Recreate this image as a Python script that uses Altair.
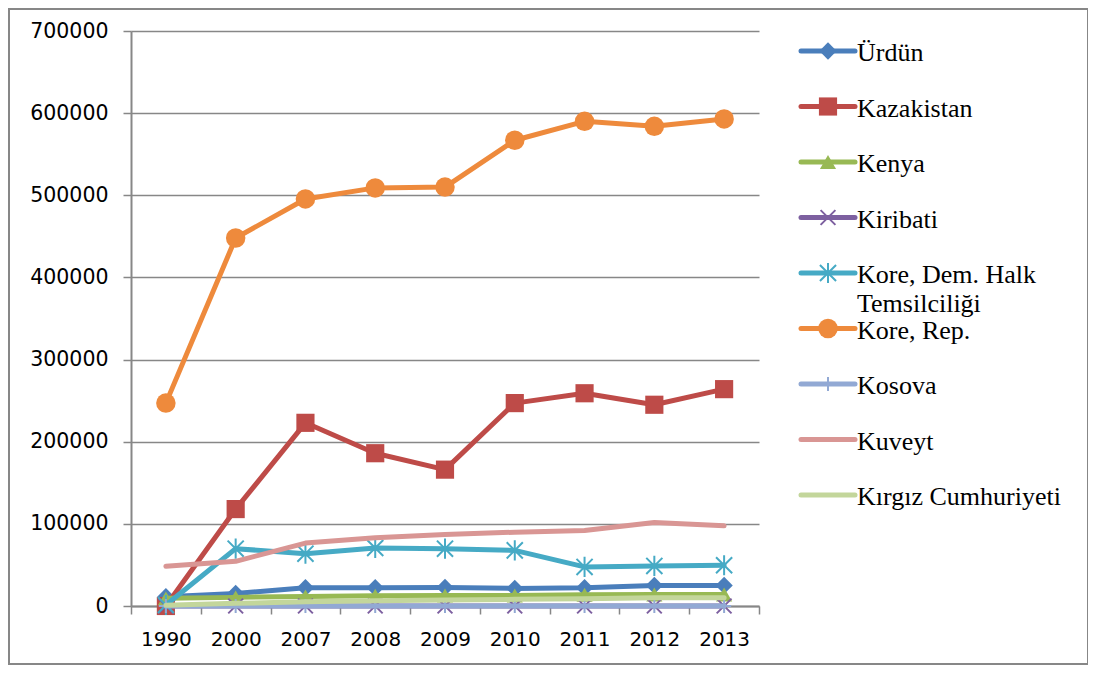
import altair as alt
import pandas as pd

years = ["1990", "2000", "2007", "2008", "2009", "2010", "2011", "2012", "2013"]
series = ["Ürdün", "Kazakistan", "Kenya", "Kiribati", "Kore, Dem. Halk Temsilciliği",
          "Kore, Rep.", "Kosova", "Kuveyt", "Kırgız Cumhuriyeti"]
legend_labels = ["Ürdün", "Kazakistan", "Kenya", "Kiribati", "Kore, Dem. Halk\nTemsilciliği",
                 "Kore, Rep.", "Kosova", "Kuveyt", "Kırgız Cumhuriyeti"]

urdun = [11300, 15300, 22200, 22200, 22600, 21400, 22200, 25000, 25000]
kazakistan = [0, 118000, 223000, 186000, 166000, 247000, 259000, 245000, 264000]
kenya = [9300, 10500, 11700, 12500, 12900, 12900, 13700, 14100, 14100]
kiribati = [0, 0, 0, 0, 0, 0, 0, 0, 0]
kore_dht = [1200, 69800, 63700, 70600, 69800, 67700, 47600, 48800, 49600]
kore_rep = [247000, 448000, 495500, 509000, 510000, 567000, 590000, 584000, 593000]
kosova = [0, 0, 0, 0, 0, 0, 0, 0, 0]
kuveyt = [48400, 54400, 76600, 83000, 87100, 89900, 91900, 101600, 97600]
kirgiz = [1000, 3200, 5200, 6500, 7300, 8100, 8900, 10100, 10100]

values = [urdun, kazakistan, kenya, kiribati, kore_dht, kore_rep, kosova, kuveyt, kirgiz]

colors = ["#4A7EBB", "#BE4B48", "#98B954", "#7D60A0", "#46AAC5",
          "#EE8A3C", "#92A9D4", "#D99694", "#C3D69B"]

# marker style per series: (shape, filled, size)
X_PATH = "M-1,-1L1,1M-1,1L1,-1"
STAR_PATH = "M-1,-1L1,1M-1,1L1,-1M0,-1.25L0,1.25"
PLUS_PATH = "M-1,0L1,0M0,-1L0,1"
marker_style = [
    ("diamond", True, 300),
    ("square", True, 330),
    ("triangle-up", True, 260),
    (X_PATH, False, 220),
    (STAR_PATH, False, 260),
    ("circle", True, 380),
    (PLUS_PATH, False, 200),
    (None, None, None),
    (None, None, None),
]

rows = []
for name, vals in zip(series, values):
    for y, v in zip(years, vals):
        rows.append({"series": name, "year": y, "value": v})
df = pd.DataFrame(rows)
leg_df = pd.DataFrame({"series": series, "label": legend_labels})

grey = "#878787"
color_scale = alt.Scale(domain=series, range=colors)

x_enc = alt.X("year:O", sort=years, bandPosition=0.5,
              scale=alt.Scale(type="band", paddingInner=0, paddingOuter=0),
              axis=alt.Axis(title=None, labelAngle=0, tickBand="extent", tickSize=8,
                            tickWidth=1.5, tickColor=grey, domainColor=grey, domainWidth=2,
                            labelFont="DejaVu Sans", labelFontSize=20, labelColor="black",
                            labelPadding=15, grid=False))
y_enc = alt.Y("value:Q", scale=alt.Scale(domain=[0, 700000], nice=False, zero=True),
              axis=alt.Axis(title=None, values=[0, 100000, 200000, 300000, 400000, 500000,
                                                600000, 700000],
                            format="d", tickSize=8, tickWidth=1.5, tickColor=grey,
                            domainColor=grey, domainWidth=2, gridColor=grey, gridWidth=1.5,
                            grid=True, labelFont="DejaVu Sans", labelFontSize=20.5,
                            labelColor="black", labelPadding=15))
c_enc = alt.Color("series:N", scale=color_scale, legend=None)

main_layers = []
for name, (shape, filled, size) in zip(series, marker_style):
    base = alt.Chart(df).transform_filter(alt.FieldEqualPredicate(field="series", equal=name))
    main_layers.append(base.mark_line(strokeWidth=5, strokeJoin="round", strokeCap="round")
                       .encode(x=x_enc, y=y_enc, color=c_enc))
    if shape is not None:
        if filled:
            pm = base.mark_point(shape=shape, filled=True, size=size, opacity=1)
        else:
            pm = base.mark_point(shape=shape, filled=False, size=size, opacity=1, strokeWidth=2)
        main_layers.append(pm.encode(x=x_enc, y=y_enc, color=c_enc))
main = alt.layer(*main_layers)

ly = alt.Y("series:N", scale=alt.Scale(type="point", domain=series, range=[20, 464], padding=0),
           axis=None)
leg_layers = []
for name, (shape, filled, size) in zip(series, marker_style):
    base = alt.Chart(leg_df).transform_filter(alt.FieldEqualPredicate(field="series", equal=name))
    leg_layers.append(base.mark_rule(strokeWidth=5, strokeCap="round")
                      .encode(x=alt.value(670), x2=alt.value(724), y=ly, color=c_enc))
    if shape is not None:
        if filled:
            pm = base.mark_point(shape=shape, filled=True, size=size, opacity=1)
        else:
            pm = base.mark_point(shape=shape, filled=False, size=size, opacity=1, strokeWidth=2)
        leg_layers.append(pm.encode(x=alt.value(697), y=ly, color=c_enc))
leg_layers.append(alt.Chart(leg_df).mark_text(align="left", baseline="alphabetic", dy=10,
                                               font="Liberation Serif", fontSize=26,
                                               lineBreak="\n", lineHeight=29, color="black")
                  .encode(x=alt.value(726), y=ly, text="label:N"))
legend = alt.layer(*leg_layers)

frame = alt.Chart(pd.DataFrame({"a": [0]})).mark_rect(fill=None, stroke=grey, strokeWidth=2).encode(
    x=alt.value(-122), x2=alt.value(957), y=alt.value(-22), y2=alt.value(633))

chart = alt.layer(frame, main, legend).resolve_scale(y="independent").properties(
    width=628, height=575,
    padding={"left": 123, "top": 23, "right": 329, "bottom": 60},
    autosize=alt.AutoSizeParams(type="none"),
).configure_view(stroke=None)

chart.save("out.html", embed_options={"renderer": "svg", "actions": False})
